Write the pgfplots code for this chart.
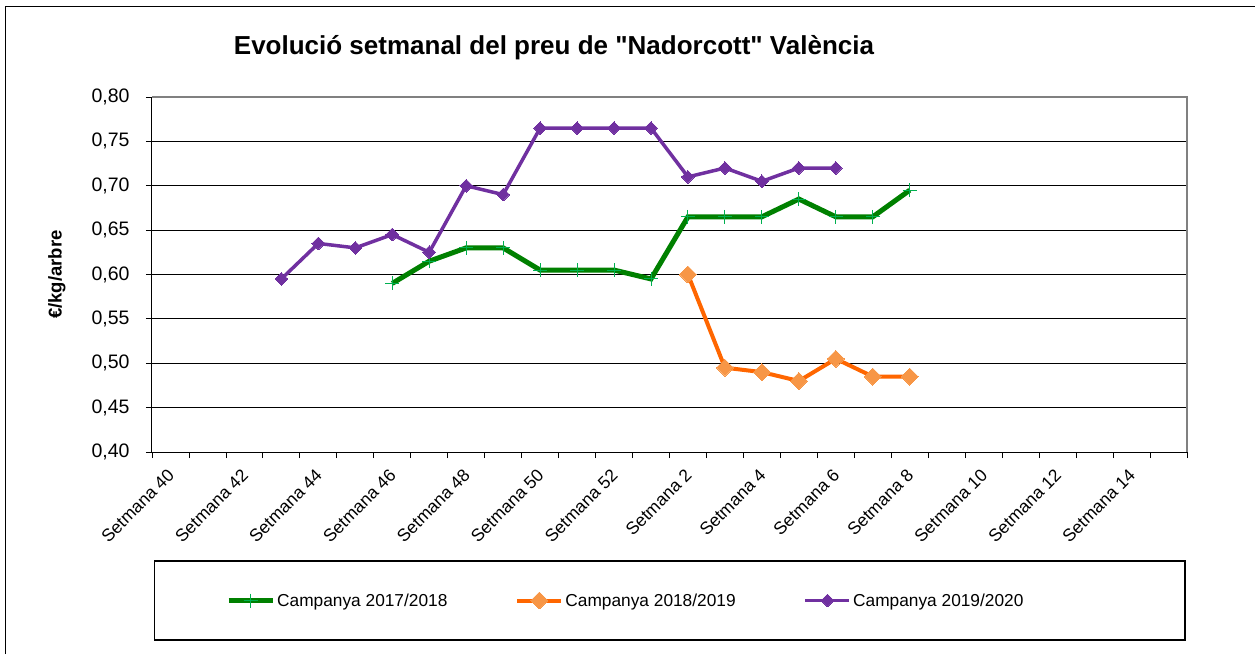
\documentclass[border=0pt]{standalone}
\usepackage{fontspec}
\setmainfont{Liberation Sans}
\usepackage{pgfplots}
\pgfplotsset{compat=1.18}
\definecolor{verd}{RGB}{0,128,0}
\definecolor{verdclar}{RGB}{0,176,80}
\definecolor{taronja}{RGB}{255,102,0}
\definecolor{taronjaclar}{RGB}{247,150,70}
\definecolor{lila}{RGB}{112,48,160}
\begin{document}
\begin{tikzpicture}[x=1pt,y=1pt]
% origen = cantonada inferior esquerra de l'area del grafic
\useasboundingbox (-152,-202) rectangle (1103,452);
\begin{scope}[shift={(-152,-202)}]
% marc exterior del grafic
\draw[black, line width=1pt] (5.5,0) -- (5.5,647) -- (1255,647);
\node[font=\fontsize{26}{30}\selectfont\bfseries] at (554,606) {Evolució setmanal del preu de \textquotedbl Nadorcott\textquotedbl{} València};
% caixa de la llegenda
\draw[black, line width=1.2pt] (154.5,14) rectangle (1185,93);
\end{scope}
\begin{axis}[
    anchor=south west,
    scale only axis,
    width=1035pt, height=355pt,
    xmin=-0.5, xmax=27.5,
    ymin=0.40, ymax=0.80,
    ytick={0.40,0.45,...,0.81},
    xtick={0,2,...,26},
    xticklabels={Setmana 40,Setmana 42,Setmana 44,Setmana 46,Setmana 48,Setmana 50,Setmana 52,Setmana 2,Setmana 4,Setmana 6,Setmana 8,Setmana 10,Setmana 12,Setmana 14},
    minor xtick={-0.5,0.5,...,27.5},
    major x tick style={draw=none},
    minor tick length=6pt,
    major tick length=6pt,
    tick align=outside,
    axis x line*=bottom, axis y line*=left,
    axis line style={black, line width=1pt},
    every tick/.style={black, line width=0.8pt},
    ymajorgrids, grid style={black, line width=0.8pt},
    /pgf/number format/.cd, fixed, fixed zerofill, precision=2, use comma, assume math mode=true,
    /pgfplots/.cd,
    yticklabel style={font=\fontsize{19.5}{22}\selectfont, xshift=-13pt},
    xticklabel style={font=\fontsize{17.5}{20}\selectfont, xshift=3pt, yshift=-12pt, rotate=45, anchor=east},
    ylabel={€/kg/arbre},
    ylabel style={font=\fontsize{18.5}{21}\selectfont\bfseries, at={(axis description cs:-0.092,0.5)}, anchor=center},
    legend columns=3,
    legend style={draw=none, fill=none, at={(axis description cs:0.0715,-0.4183)}, anchor=west, inner xsep=0pt,
        font=\fontsize{17.3}{20}\selectfont,
        /tikz/every even column/.append style={column sep=66pt}},
    legend image code/.code={\draw[#1, mark repeat=2, mark phase=2] plot coordinates {(0pt,0pt) (22pt,0pt) (44pt,0pt)};},
    clip=false,
]
\draw[gray, line width=1.2pt] (rel axis cs:0,1) -- (rel axis cs:1,1) -- (rel axis cs:1,0);
\addplot[verd, line width=5pt, mark=+, mark size=7pt, mark options={verdclar, line width=1pt}] coordinates {
    (6,0.590) (7,0.615) (8,0.630) (9,0.630) (10,0.605) (11,0.605) (12,0.605) (13,0.595)
    (14,0.665) (15,0.665) (16,0.665) (17,0.685) (18,0.665) (19,0.665) (20,0.695)
};
\addlegendentry{Campanya 2017/2018}
\addplot[taronja, line width=4pt, mark=square*, mark size=6pt, mark options={taronjaclar, line width=0pt, rotate=45}] coordinates {
    (14,0.600) (15,0.495) (16,0.490) (17,0.480) (18,0.505) (19,0.485) (20,0.485)
};
\addlegendentry{Campanya 2018/2019}
\addplot[lila, line width=3.5pt, mark=square*, mark size=4.5pt, mark options={lila, line width=0pt, rotate=45}] coordinates {
    (3,0.595) (4,0.635) (5,0.630) (6,0.645) (7,0.625) (8,0.700) (9,0.690) (10,0.765)
    (11,0.765) (12,0.765) (13,0.765) (14,0.710) (15,0.720) (16,0.705) (17,0.720) (18,0.720)
};
\addlegendentry{Campanya 2019/2020}
\end{axis}
\end{tikzpicture}
\end{document}
